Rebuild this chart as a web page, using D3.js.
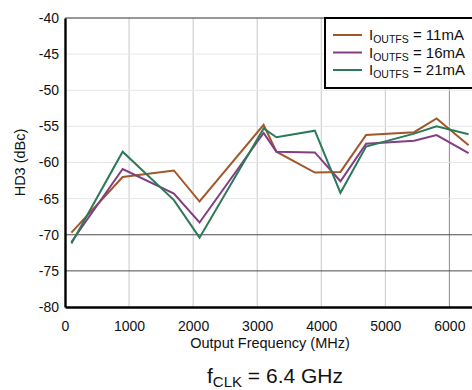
<!DOCTYPE html>
<html>
<head>
<meta charset="utf-8">
<script src="https://cdn.jsdelivr.net/npm/d3@7"></script>
<style>
  body { margin: 0; background: #fff; }
  svg { display: block; font-family: Arial, "Liberation Sans", sans-serif; }
</style>
</head>
<body>
<svg id="chart" width="472" height="390"></svg>
<script>
// values
const freqs = [100, 900, 1700, 2100, 3100, 3300, 3900, 4300, 4700, 5450, 5800, 6300];
const hd3_11mA = [-69.7, -62.0, -61.1, -65.4, -54.8, -58.5, -61.4, -61.3, -56.2, -55.8, -53.9, -57.6];
const hd3_16mA = [-71.0, -60.9, -64.3, -68.3, -55.9, -58.5, -58.6, -62.6, -57.4, -57.0, -56.2, -58.7];
const hd3_21mA = [-71.2, -58.5, -65.2, -70.4, -55.3, -56.5, -55.6, -64.2, -57.8, -56.0, -55.0, -56.1];
const seriesNames = ["11mA", "16mA", "21mA"];
const seriesColors = ["#a0572a", "#843c84", "#2c7a58"];
const xTicks = [0, 1000, 2000, 3000, 4000, 5000, 6000];
const yTicks = [-80, -75, -70, -65, -60, -55, -50, -45, -40];

const series = [hd3_11mA, hd3_16mA, hd3_21mA].map((vals, i) => ({
  name: seriesNames[i],
  color: seriesColors[i],
  points: vals.map((v, j) => ({ f: freqs[j], v }))
}));

const svg = d3.select("#chart");
const plotLeft = 65, plotTop = 18, plotBottom = 307, plotRight = 475;

const x = d3.scaleLinear().domain([0, 6400]).range([plotLeft, plotRight]);
const y = d3.scaleLinear().domain([-80, -40]).range([plotBottom, plotTop]);

// grid
const grid = svg.append("g");
grid.selectAll(".vgrid")
  .data(xTicks.filter(d => d > 0))
  .join("line")
  .attr("x1", d => x(d)).attr("x2", d => x(d))
  .attr("y1", plotTop).attr("y2", plotBottom)
  .attr("stroke", d => d === 6000 ? "#8a8a8a" : "#c8c8c8")
  .attr("stroke-width", 1);
grid.selectAll(".hgrid")
  .data(yTicks.filter(d => d > -80 && d < -40))
  .join("line")
  .attr("x1", plotLeft).attr("x2", plotRight)
  .attr("y1", d => y(d)).attr("y2", d => y(d))
  .attr("stroke", d => d <= -70 ? "#4a4a4a" : "#e6e6e6")
  .attr("stroke-width", 1);

// frame
svg.append("line").attr("x1", plotLeft).attr("x2", plotRight).attr("y1", plotTop).attr("y2", plotTop)
  .attr("stroke", "#333").attr("stroke-width", 1);

// series lines
const line = d3.line().x(d => x(d.f)).y(d => y(d.v));
svg.append("g").selectAll("path")
  .data(series)
  .join("path")
  .attr("d", d => line(d.points))
  .attr("fill", "none")
  .attr("stroke", d => d.color)
  .attr("stroke-width", 2)
  .attr("stroke-linejoin", "miter");

// axes
const xAxis = svg.append("g")
  .attr("transform", `translate(0,${plotBottom})`)
  .call(d3.axisBottom(x).tickValues(xTicks).tickSize(0).tickPadding(14).tickFormat(d3.format("d")));
xAxis.select(".domain").attr("stroke", "#000").attr("stroke-width", 2.4);
xAxis.selectAll("text").attr("font-size", 14).attr("fill", "#111")
  .style("font-family", "Arial, 'Liberation Sans', sans-serif");

const yAxis = svg.append("g")
  .attr("transform", `translate(${plotLeft},0)`)
  .call(d3.axisLeft(y).tickValues(yTicks).tickSize(0).tickPadding(6).tickFormat(d => String(d)));
yAxis.select(".domain").attr("stroke", "#000").attr("stroke-width", 2.4);
yAxis.selectAll("text").attr("font-size", 14).attr("fill", "#111")
  .style("font-family", "Arial, 'Liberation Sans', sans-serif");

// axis titles
svg.append("text")
  .attr("x", 270).attr("y", 348)
  .attr("text-anchor", "middle")
  .attr("font-size", 14.5).attr("fill", "#111")
  .text("Output Frequency (MHz)");

svg.append("text")
  .attr("transform", `translate(25,${(plotTop + plotBottom) / 2}) rotate(-90)`)
  .attr("text-anchor", "middle")
  .attr("font-size", 14.5).attr("fill", "#111")
  .text("HD3 (dBc)");

// caption
const cap = svg.append("text")
  .attr("x", 275).attr("y", 383)
  .attr("text-anchor", "middle")
  .attr("font-size", 21).attr("fill", "#111");
cap.append("tspan").text("f");
cap.append("tspan").attr("font-size", 15).attr("dy", 4).text("CLK");
cap.append("tspan").attr("dy", -4).text(" = 6.4 GHz");

// legend
const legend = svg.append("g");
legend.append("rect")
  .attr("x", 325).attr("y", plotTop).attr("width", 160).attr("height", 70)
  .attr("fill", "#fff").attr("stroke", "#000").attr("stroke-width", 2);

const rows = legend.selectAll(".row")
  .data(series)
  .join("g")
  .attr("class", "row")
  .attr("transform", (d, i) => `translate(0,${35 + i * 17.5})`);
rows.append("line")
  .attr("x1", 333).attr("x2", 362)
  .attr("stroke", d => d.color).attr("stroke-width", 2);
const lt = rows.append("text")
  .attr("x", 369).attr("y", 5)
  .attr("font-size", 15).attr("fill", "#111");
lt.append("tspan").text("I");
lt.append("tspan").attr("font-size", 10.5).attr("dy", 3).text("OUTFS");
lt.append("tspan").attr("dy", -3).text(d => ` = ${d.name}`);
</script>
</body>
</html>
